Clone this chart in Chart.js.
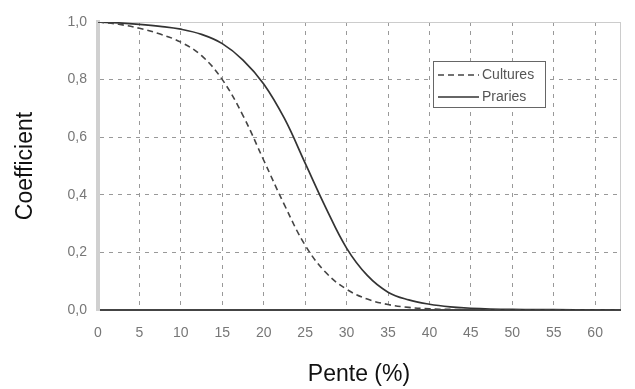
<!DOCTYPE html>
<html>
<head>
<meta charset="utf-8">
<script src="https://cdn.jsdelivr.net/npm/chart.js@4/dist/chart.umd.min.js"></script>
<style>
  html, body { margin: 0; padding: 0; background: #fff; }
  #wrap { width: 635px; height: 389px; position: relative; }
</style>
</head>
<body>
<div id="wrap"><canvas id="penteChart"></canvas></div>
<script>
// slope (%) sampled along the curves
const pente = [0, 2.5, 5, 7.5, 10, 12.5, 15, 17.5, 20, 22.5, 25, 27.5, 30, 32.5, 35, 37.5, 40, 42.5, 45, 50, 55, 60, 63];
const cultures = [1.0, 0.992, 0.978, 0.958, 0.93, 0.883, 0.80, 0.675, 0.52, 0.365, 0.225, 0.13, 0.072, 0.038, 0.019, 0.009, 0.004, 0.002, 0.001, 0, 0, 0, 0];
const praries = [1.0, 0.997, 0.992, 0.985, 0.975, 0.957, 0.925, 0.868, 0.785, 0.665, 0.51, 0.355, 0.215, 0.12, 0.062, 0.035, 0.02, 0.011, 0.006, 0.002, 0.001, 0, 0];

const seriesNames = ['Cultures', 'Praries'];
const xTickLabels = ['0', '5', '10', '15', '20', '25', '30', '35', '40', '45', '50', '55', '60'];
const yTickLabels = ['0,0', '0,2', '0,4', '0,6', '0,8', '1,0'];

const gridDash = [4, 5];

// legend box drawn inside the plot, like the original
const boxLegend = {
  id: 'boxLegend',
  afterDatasetsDraw(chart) {
    const c = chart.ctx;
    const x0 = 433, y0 = 61, w = 112, h = 46;
    c.save();
    c.fillStyle = '#fff';
    c.fillRect(x0, y0, w, h);
    c.strokeStyle = '#666';
    c.lineWidth = 1;
    c.setLineDash([]);
    c.strokeRect(x0 + 0.5, y0 + 0.5, w, h);
    c.font = '14px "Liberation Sans", Arial, sans-serif';
    c.textBaseline = 'middle';
    chart.data.datasets.forEach((ds, i) => {
      const y = 75 + i * 22;
      c.strokeStyle = ds.borderColor;
      c.lineWidth = ds.borderWidth;
      c.setLineDash(ds.borderDash || []);
      c.beginPath();
      c.moveTo(438, y);
      c.lineTo(479, y);
      c.stroke();
      c.fillStyle = '#555';
      c.fillText(ds.label, 482, y);
    });
    c.restore();
  }
};

new Chart(document.getElementById('penteChart'), {
  type: 'line',
  data: {
    datasets: [
      {
        label: seriesNames[0],
        data: pente.map((x, i) => ({ x: x, y: cultures[i] })),
        borderColor: '#444',
        borderWidth: 1.6,
        borderDash: [6, 4],
        pointRadius: 0,
        tension: 0.4,
        fill: false
      },
      {
        label: seriesNames[1],
        data: pente.map((x, i) => ({ x: x, y: praries[i] })),
        borderColor: '#333',
        borderWidth: 1.7,
        pointRadius: 0,
        tension: 0.4,
        fill: false
      }
    ]
  },
  options: {
    responsive: true,
    maintainAspectRatio: false,
    animation: false,
    layout: { padding: { top: 22, right: 9, left: 0, bottom: 0 } },
    plugins: {
      legend: { display: false },
      tooltip: { enabled: false }
    },
    scales: {
      x: {
        type: 'linear',
        min: 0,
        max: 63,
        afterFit: (s) => { s.height = 79; },
        ticks: {
          stepSize: 5,
          padding: 15,
          color: '#777',
          font: { size: 14, family: '"Liberation Sans", Arial, sans-serif' },
          callback: (v) => (v % 5 === 0 ? xTickLabels[v / 5] : '')
        },
        grid: {
          drawTicks: false,
          lineWidth: 1,
          color: (ctx) => {
            if (!ctx.tick) return '#999';
            if (ctx.tick.value === 0) return 'rgba(0,0,0,0)';
            if (ctx.tick.value === 63) return '#ccc';
            return '#999';
          }
        },
        border: {
          color: '#444',
          width: 2,
          dash: (ctx) => (ctx.tick && ctx.tick.value === 63 ? [] : gridDash)
        },
        title: {
          display: true,
          text: 'Pente (%)',
          color: '#111',
          font: { size: 23, family: '"Liberation Sans", Arial, sans-serif' },
          padding: { top: 0, bottom: 1 }
        }
      },
      y: {
        min: 0,
        max: 1,
        afterFit: (s) => { s.width = 98; },
        ticks: {
          stepSize: 0.2,
          padding: 11,
          color: '#777',
          font: { size: 14, family: '"Liberation Sans", Arial, sans-serif' },
          callback: (v) => yTickLabels[Math.round(v * 5)]
        },
        grid: {
          drawTicks: false,
          lineWidth: 1,
          color: (ctx) => (ctx.tick && ctx.tick.value === 1 ? '#ccc' : '#999')
        },
        border: {
          color: '#d0d0d0',
          width: 4,
          dash: (ctx) => (ctx.tick && ctx.tick.value === 1 ? [] : gridDash)
        },
        title: {
          display: true,
          text: 'Coefficient',
          color: '#111',
          font: { size: 23, family: '"Liberation Sans", Arial, sans-serif' },
          padding: { top: 12, bottom: 0 }
        }
      }
    }
  },
  plugins: [boxLegend]
});
</script>
</body>
</html>
